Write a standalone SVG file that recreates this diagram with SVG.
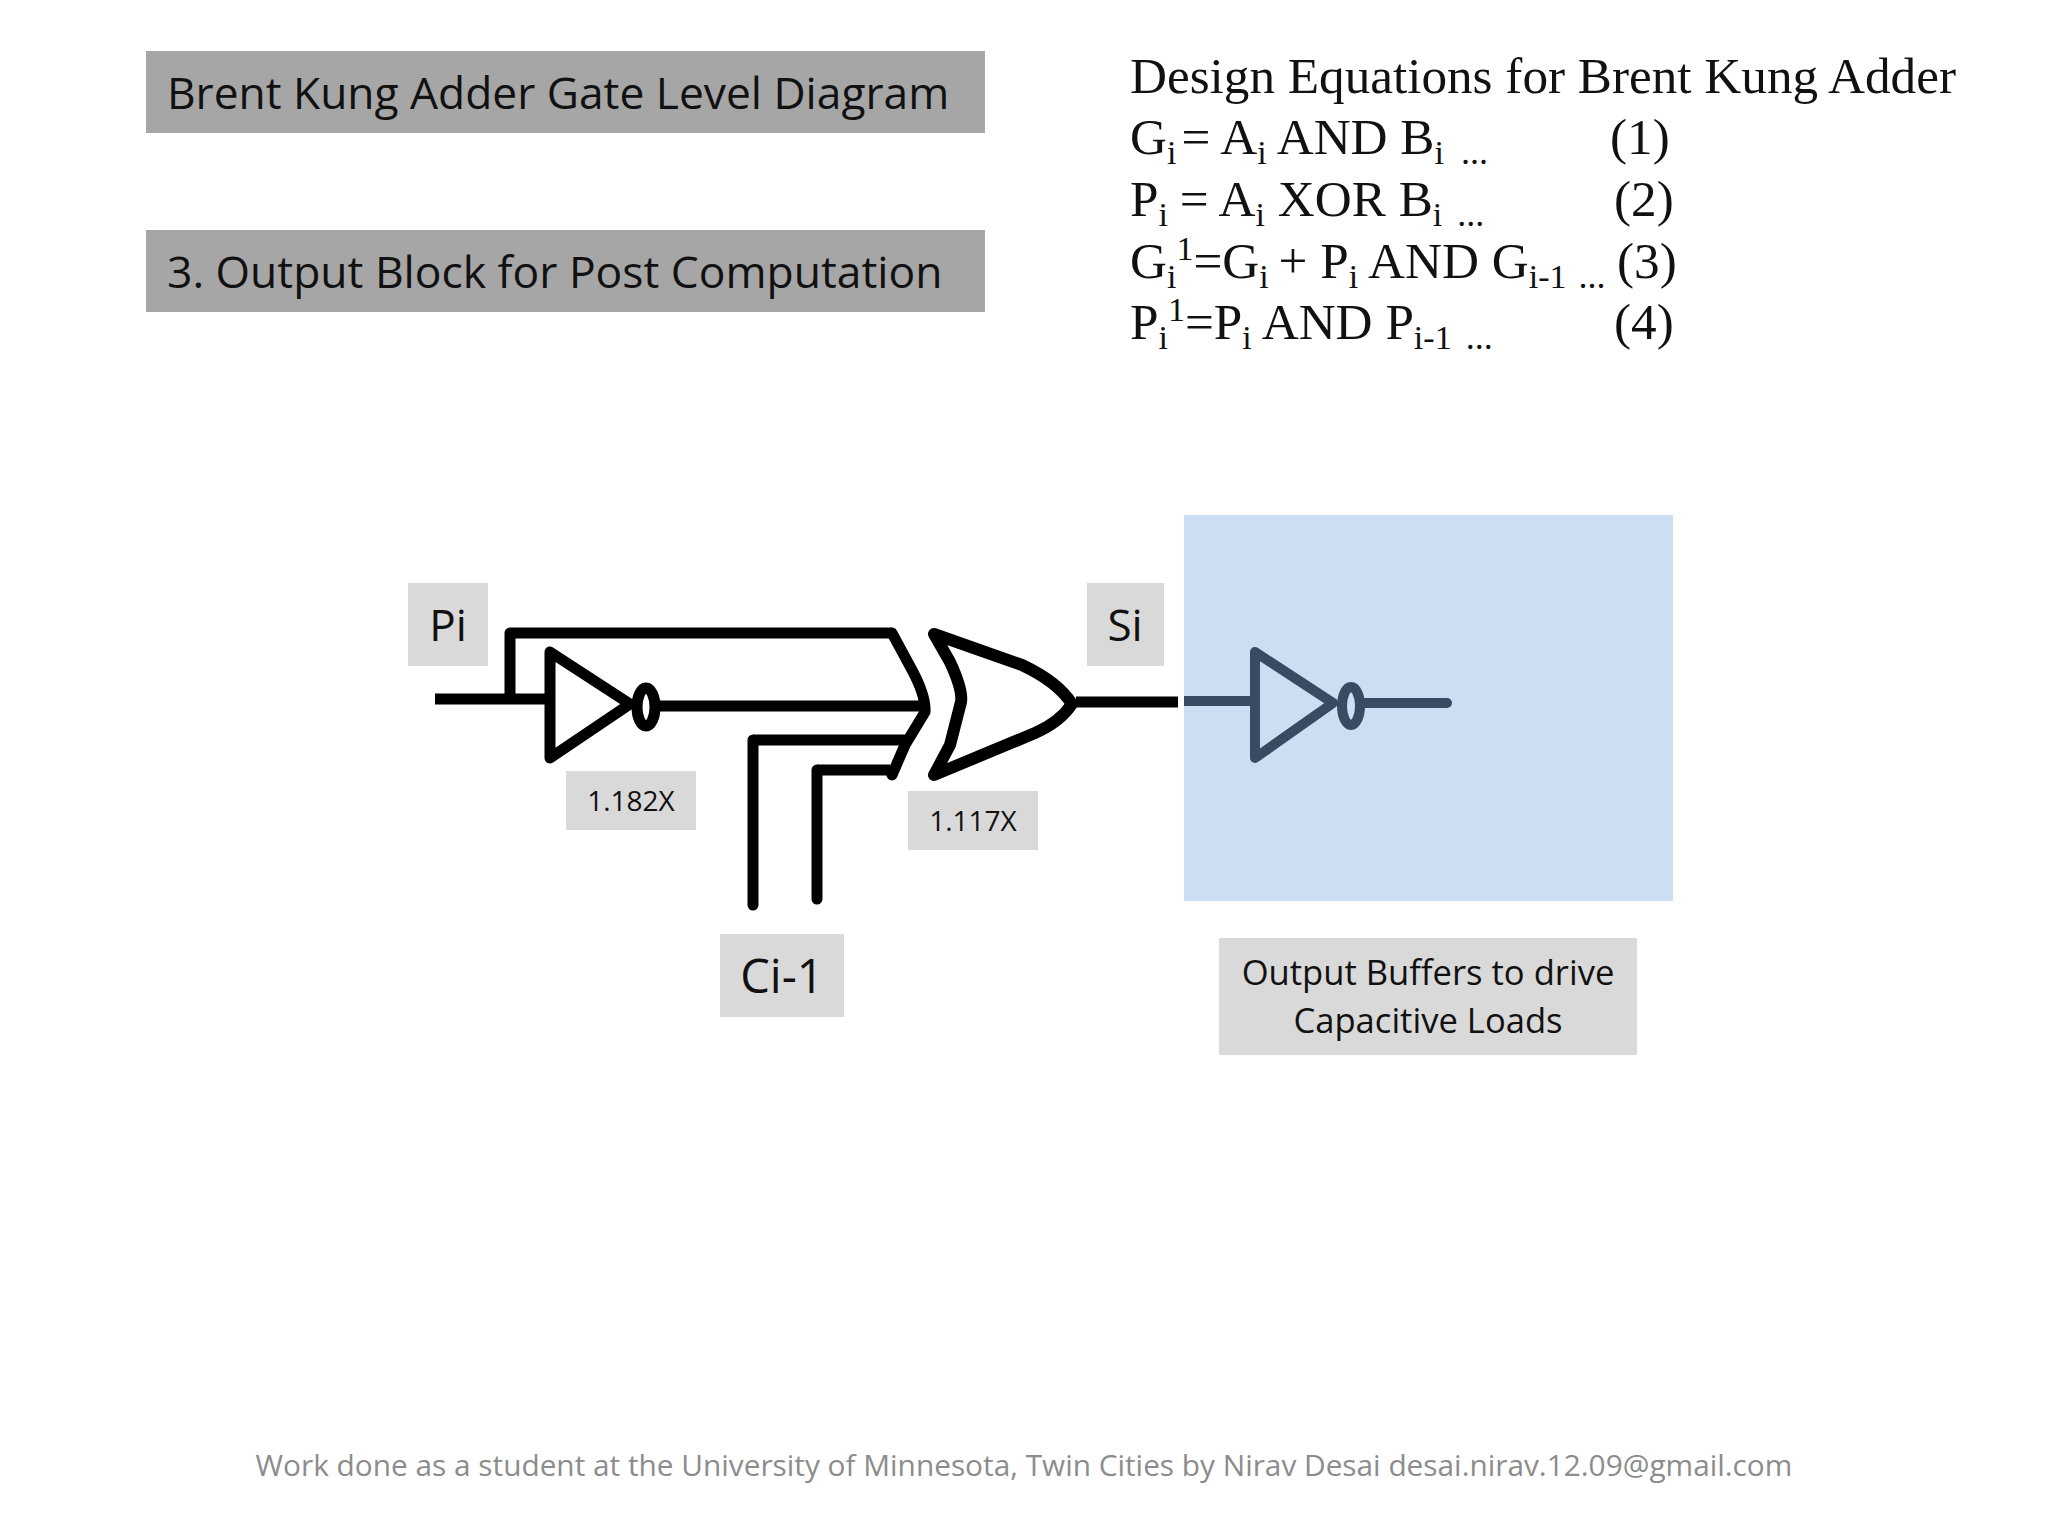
<svg xmlns="http://www.w3.org/2000/svg" width="2048" height="1536" viewBox="0 0 2048 1536">
<style>
.sans{font-family:"Open Sans","Noto Sans",sans-serif;fill:#111}
.eq{font-family:"Liberation Serif",serif;font-size:51.2px;fill:#111}
.sub{font-size:34px}
.dots{font-size:36px}
.lab{fill:#d9d9d9}
.hd{fill:#a6a6a6}
.w{fill:none;stroke:#000;stroke-width:11;stroke-linejoin:round;stroke-linecap:round}
.x{stroke-width:12}
.wb{fill:none;stroke:#000;stroke-width:11;stroke-linejoin:round;stroke-linecap:butt}
.b{fill:none;stroke:#3b4a63;stroke-width:10;stroke-linejoin:round;stroke-linecap:round}
.bb{fill:none;stroke:#3b4a63;stroke-width:10;stroke-linecap:butt}
</style>
<rect width="2048" height="1536" fill="#fff"/>
<g id="title"><rect class="hd" x="146" y="51" width="839" height="82"/><text class="sans" x="167" y="109" font-size="44.3">Brent Kung Adder Gate Level Diagram</text></g>
<g id="subtitle"><rect class="hd" x="146" y="230" width="839" height="82"/><text class="sans" x="167" y="288" font-size="44.4">3. Output Block for Post Computation</text></g>
<g id="equations">
<text class="eq" x="1130" y="93">Design Equations for Brent Kung Adder</text>
<text class="eq" x="1130" y="154">G<tspan class="sub" dy="10">i</tspan><tspan dy="-10" dx="5">= A</tspan><tspan class="sub" dy="10">i</tspan><tspan dy="-10"> AND B</tspan><tspan class="sub" dy="10">i</tspan><tspan class="dots" dx="8"> ...</tspan></text>
<text class="eq" x="1610" y="154">(1)</text>
<text class="eq" x="1130" y="216">P<tspan class="sub" dy="10">i</tspan><tspan dy="-10" dx="-1"> = A</tspan><tspan class="sub" dy="10">i</tspan><tspan dy="-10"> XOR B</tspan><tspan class="sub" dy="10">i</tspan><tspan class="dots" dx="6"> ...</tspan></text>
<text class="eq" x="1614" y="216">(2)</text>
<text class="eq" x="1130" y="278">G<tspan class="sub" dy="10">i</tspan><tspan class="sub" dy="-28">1</tspan><tspan dy="18">=G</tspan><tspan class="sub" dy="10">i</tspan><tspan dy="-10" dx="-3"> + P</tspan><tspan class="sub" dy="10">i</tspan><tspan dy="-10"> AND G</tspan><tspan class="sub" dy="10">i-1</tspan><tspan class="dots" dx="3"> ...</tspan></text>
<text class="eq" x="1617" y="278">(3)</text>
<text class="eq" x="1130" y="339">P<tspan class="sub" dy="10">i</tspan><tspan class="sub" dy="-28">1</tspan><tspan dy="18">=P</tspan><tspan class="sub" dy="10">i</tspan><tspan dy="-10"> AND P</tspan><tspan class="sub" dy="10">i-1</tspan><tspan class="dots" dx="5"> ...</tspan></text>
<text class="eq" x="1614" y="339">(4)</text>
</g>
<g id="output-region"><rect x="1184" y="515" width="489" height="386" fill="#cddef3"/></g>
<g id="label-pi"><rect class="lab" x="408" y="583" width="80" height="83"/><text class="sans" x="448" y="641" font-size="44" text-anchor="middle">Pi</text></g>
<g id="label-si"><rect class="lab" x="1087" y="583" width="77" height="83"/><text class="sans" x="1125" y="641" font-size="44" text-anchor="middle">Si</text></g>
<g id="label-ci"><rect class="lab" x="720" y="934" width="124" height="83"/><text class="sans" x="782" y="993" font-size="47" text-anchor="middle">Ci-1</text></g>
<g id="label-1182"><rect class="lab" x="566" y="771" width="130" height="59"/><text class="sans" x="631" y="811" font-size="28" text-anchor="middle">1.182X</text></g>
<g id="label-1117"><rect class="lab" x="908" y="791" width="130" height="59"/><text class="sans" x="973" y="831" font-size="28" text-anchor="middle">1.117X</text></g>
<g id="label-buffers"><rect class="lab" x="1219" y="938" width="418" height="117"/><text class="sans" x="1428" y="985" font-size="34.6" text-anchor="middle">Output Buffers to drive</text><text class="sans" x="1428" y="1033" font-size="34.6" text-anchor="middle">Capacitive Loads</text></g>
<g id="inverter-1"><path class="w" d="M550 652V758L630 704Z"/><ellipse class="w" cx="646" cy="707" rx="9" ry="19"/></g>
<g id="xor-gate"><path class="w" d="M892 633L912 670Q926 696 925 712L905 745L892 775"/><path class="w x" d="M934 634L950 662Q963 690 961 702L950 745L934 775L1035 733Q1060 722 1072 704Q1058 682 1022 665Z"/></g>
<g id="inverter-2"><path class="b" d="M1255 652V758L1333 703Z"/><ellipse class="b" cx="1351" cy="706" rx="9" ry="19"/></g>
<g id="connectors">
<path class="wb" d="M435 699H550M510 699V633H892M660 706H925M753 740H905M817 770H890M1076 702H1178"/>
<path class="w" d="M753 905V740M817 899V770"/>
<path class="bb" d="M1184 701H1255"/><path class="b" d="M1363 703H1447"/>
</g>
<g id="footer"><text class="sans" x="1024" y="1476" font-size="29.8" text-anchor="middle" style="fill:#8c8c8c">Work done as a student at the University of Minnesota, Twin Cities by Nirav Desai desai.nirav.12.09@gmail.com</text></g>
</svg>
